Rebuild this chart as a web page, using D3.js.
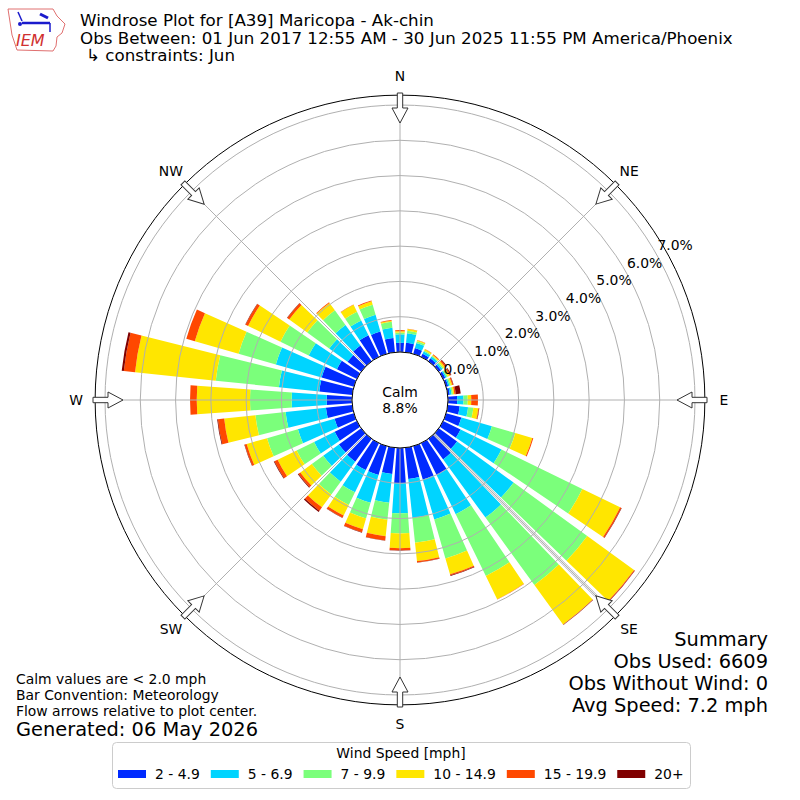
<!DOCTYPE html>
<html lang="en">
<head>
<meta charset="UTF-8">
<title>Windrose Plot</title>
<script src="https://cdn.jsdelivr.net/npm/d3@7"></script>
<style>
    body { margin: 0; background: #fff; }
    svg text { font-family: "DejaVu Sans", sans-serif; fill: #000; }
</style>
</head>
<body>
<svg id="vis" width="800" height="800"></svg>
<script>
    // wind directions (deg, where the wind blows from)
    const directions = [0, 10, 20, 30, 40, 50, 60, 70, 80, 90, 100, 110,
                        120, 130, 140, 150, 160, 170, 180, 190, 200, 210, 220, 230,
                        240, 250, 260, 270, 280, 290, 300, 310, 320, 330, 340, 350];

    const speedBins = ["2 - 4.9", "5 - 6.9", "7 - 9.9", "10 - 14.9", "15 - 19.9", "20+"];
    const binColors = ["#002aff", "#00d4ff", "#7bff7b", "#ffe600", "#ff4800", "#800000"];

    // frequency (%) per direction, one list per speed bin
    const spd2 = [0.26, 0.27, 0.17, 0.10, 0.10, 0.08, 0.07, 0.06, 0.06, 0.26, 0.34, 0.45,
                  0.55, 0.64, 0.72, 1.01, 0.98, 0.89, 1.00, 0.75, 0.85, 0.85, 0.80, 0.78,
                  0.70, 0.57, 0.75, 0.72, 0.94, 0.95, 0.63, 0.48, 0.55, 0.68, 0.66, 0.41];
    const spd5 = [0.24, 0.27, 0.15, 0.07, 0.06, 0.05, 0.04, 0.04, 0.05, 0.18, 0.24, 0.90,
                  1.29, 1.98, 2.04, 1.23, 1.18, 1.11, 0.85, 0.82, 0.82, 0.70, 0.70, 0.55,
                  0.65, 1.08, 1.15, 0.99, 1.15, 1.35, 0.89, 0.64, 0.72, 0.47, 0.49, 0.29];
    const spd7 = [0.05, 0.07, 0.05, 0.03, 0.03, 0.04, 0.04, 0.04, 0.04, 0.12, 0.15, 0.69,
                  2.55, 2.58, 2.36, 1.95, 1.15, 0.71, 0.57, 0.48, 0.46, 0.40, 0.45, 0.40,
                  0.55, 0.91, 0.86, 1.18, 1.80, 1.10, 0.89, 0.77, 0.51, 0.27, 0.30, 0.17];
    const spd10 = [0.04, 0.05, 0.03, 0.04, 0.03, 0.05, 0.05, 0.04, 0.04, 0.10, 0.14, 0.50,
                   1.19, 1.64, 1.38, 0.73, 0.47, 0.52, 0.42, 0.47, 0.32, 0.33, 0.45, 0.40,
                   0.60, 0.60, 0.89, 1.51, 2.30, 1.29, 1.02, 0.63, 0.26, 0.22, 0.10, 0.03];
    const spd15 = [0.03, 0.01, 0.01, 0.01, 0.02, 0.04, 0.04, 0.03, 0.04, 0.19, 0.02, 0.03,
                   0.04, 0.02, 0.01, 0.01, 0.03, 0.04, 0.06, 0.12, 0.09, 0.07, 0.12, 0.07,
                   0.10, 0.06, 0.18, 0.19, 0.32, 0.25, 0.08, 0.07, 0.02, 0.01, 0.02, 0.02];
    const spd20 = [0.00, 0.00, 0.00, 0.00, 0.00, 0.02, 0.02, 0.01, 0.14, 0.00, 0.01, 0.00,
                   0.01, 0.01, 0.01, 0.00, 0.02, 0.01, 0.01, 0.01, 0.01, 0.01, 0.04, 0.02,
                   0.02, 0.01, 0.02, 0.00, 0.06, 0.00, 0.01, 0.01, 0.00, 0.00, 0.00, 0.00];

    const radialTicks = [0, 1, 2, 3, 4, 5, 6, 7];
    const compassNames = ["N", "NE", "E", "SE", "S", "SW", "W", "NW"];
    const compassAngles = [0, 45, 90, 135, 180, 225, 270, 315];
    const calmPct = 8.8;

    const titleLines = ["Windrose Plot for [A39] Maricopa - Ak-chin",
                        "Obs Between: 01 Jun 2017 12:55 AM - 30 Jun 2025 11:55 PM America/Phoenix",
                        "\u21b3 constraints: Jun"];
    const noteLines = ["Calm values are < 2.0 mph", "Bar Convention: Meteorology",
                       "Flow arrows relative to plot center."];
    const summaryLines = ["Summary", "Obs Used: 6609", "Obs Without Wind: 0", "Avg Speed: 7.2 mph"];

    /* build stacked table */
    const series = [spd2, spd5, spd7, spd10, spd15, spd20];
    const rows = directions.map(function(d, i) {
        let row = {dir: d};
        speedBins.forEach(function(b, j) { row[b] = series[j][i]; });
        return row;
    });
    const stacked = d3.stack().keys(speedBins)(rows);

    let svg = d3.select("#vis");
    const cx = 400, cy = 400;
    const rMax = 7.28;
    const fs = 13.9; // 10pt
    let r = d3.scaleLinear().domain([0, 7]).range([48, 295]);
    const rad = Math.PI / 180;
    const halfWidth = 4; // bar opening 8 deg

    let plot = svg.append("g").attr("transform", "translate(" + cx + "," + cy + ")");

    /* bars */
    let arc = d3.arc();
    plot.selectAll(".layer")
        .data(stacked)
        .join("g")
        .attr("class", "layer")
        .attr("fill", (s, i) => binColors[i])
        .selectAll("path")
        .data(s => s)
        .join("path")
        .attr("d", d => arc({
            innerRadius: r(d[0]),
            outerRadius: r(d[1]),
            startAngle: (d.data.dir - halfWidth) * rad,
            endAngle: (d.data.dir + halfWidth) * rad
        }));

    /* grid */
    plot.selectAll(".ring")
        .data(radialTicks)
        .join("circle")
        .attr("class", "ring")
        .attr("r", d => r(d))
        .attr("fill", "none")
        .attr("stroke", "#b0b0b0")
        .attr("stroke-width", 1);

    plot.selectAll(".spoke")
        .data(compassAngles)
        .join("line")
        .attr("class", "spoke")
        .attr("x1", a => r(0) * Math.sin(a * rad))
        .attr("y1", a => -r(0) * Math.cos(a * rad))
        .attr("x2", a => r(rMax) * Math.sin(a * rad))
        .attr("y2", a => -r(rMax) * Math.cos(a * rad))
        .attr("stroke", "#b0b0b0")
        .attr("stroke-width", 1);

    // doubled line along the SE spoke, as in the original
    plot.append("g")
        .attr("transform", "rotate(135)")
        .selectAll("line")
        .data([-1.2, 1.2])
        .join("line")
        .attr("x1", o => o).attr("x2", o => o)
        .attr("y1", -r(0)).attr("y2", -277)
        .attr("stroke", "#a8a8a8")
        .attr("stroke-width", 0.8);

    plot.append("circle")
        .attr("r", r(rMax))
        .attr("fill", "none")
        .attr("stroke", "#000")
        .attr("stroke-width", 1);

    /* flow arrows, pointing to the center */
    const tipR = 277, headR = 292, tailR = 307;
    const arrowPath = "M0," + (-tipR) + "L8," + (-headR) + "L2.7," + (-headR) +
        "L2.7," + (-tailR) + "L-2.7," + (-tailR) + "L-2.7," + (-headR) + "L-8," + (-headR) + "Z";
    plot.selectAll(".arrow")
        .data(compassAngles)
        .join("path")
        .attr("class", "arrow")
        .attr("d", arrowPath)
        .attr("transform", a => "rotate(" + a + ")")
        .attr("fill", "#fff")
        .attr("stroke", "#333")
        .attr("stroke-width", 1);

    /* compass labels */
    plot.selectAll(".compass")
        .data(compassAngles)
        .join("text")
        .attr("class", "compass")
        .attr("x", a => 324 * Math.sin(a * rad))
        .attr("y", a => -324 * Math.cos(a * rad))
        .attr("text-anchor", "middle")
        .attr("dominant-baseline", "central")
        .attr("font-size", fs)
        .text((a, i) => compassNames[i]);

    /* radial labels at 60 deg */
    plot.selectAll(".rlabel")
        .data(radialTicks)
        .join("text")
        .attr("class", "rlabel")
        .attr("x", t => r(t) * Math.sin(60 * rad) + 2)
        .attr("y", t => -r(t) * Math.cos(60 * rad) - 2.5)
        .attr("font-size", fs)
        .text(t => t.toFixed(1) + "%");

    /* calm circle */
    plot.append("circle")
        .attr("r", r(0))
        .attr("fill", "#fff")
        .attr("stroke", "#000")
        .attr("stroke-width", 1);
    plot.append("text").attr("y", -8).attr("text-anchor", "middle")
        .attr("dominant-baseline", "central").attr("font-size", fs).text("Calm");
    plot.append("text").attr("y", 8).attr("text-anchor", "middle")
        .attr("dominant-baseline", "central").attr("font-size", fs).text(calmPct.toFixed(1) + "%");

    /* titles */
    svg.selectAll(".title")
        .data(titleLines)
        .join("text")
        .attr("class", "title")
        .attr("x", (d, i) => i === 2 ? 86 : 80)
        .attr("y", (d, i) => 26 + i * 17.5)
        .attr("font-size", 16.7)
        .text(d => d);

    /* notes */
    svg.selectAll(".note")
        .data(noteLines)
        .join("text")
        .attr("class", "note")
        .attr("x", 16)
        .attr("y", (d, i) => 684 + i * 16)
        .attr("font-size", fs)
        .text(d => d);
    svg.append("text").attr("x", 16).attr("y", 736).attr("font-size", 19.4)
        .text("Generated: 06 May 2026");

    svg.selectAll(".summary")
        .data(summaryLines)
        .join("text")
        .attr("class", "summary")
        .attr("x", 768)
        .attr("y", (d, i) => 646 + i * 22)
        .attr("text-anchor", "end")
        .attr("font-size", 19.4)
        .text(d => d);

    /* legend */
    let legend = svg.append("g");
    legend.append("rect")
        .attr("x", 112.5).attr("y", 742.5).attr("width", 578).attr("height", 46)
        .attr("rx", 4).attr("fill", "#fff").attr("stroke", "#cccccc");
    legend.append("text").attr("x", 401).attr("y", 758).attr("text-anchor", "middle")
        .attr("font-size", fs).text("Wind Speed [mph]");
    let lx = 118;
    speedBins.forEach(function(b, i) {
        legend.append("rect").attr("x", lx).attr("y", 770).attr("width", 28).attr("height", 8)
            .attr("fill", binColors[i]);
        let t = legend.append("text").attr("x", lx + 37).attr("y", 779)
            .attr("font-size", fs).text(b);
        lx += 37 + t.node().getComputedTextLength() + 11;
    });

    /* IEM logo */
    let logo = svg.append("g");
    logo.append("path")
        .attr("d", "M8,9 L53,9 L57,16 L65,24 L62,33 L57,37 L56,46 L53,51 L17,50 L15,44 L12,35 L10,22 Z")
        .attr("fill", "none").attr("stroke", "#e07070").attr("stroke-width", 1);
    logo.append("line").attr("x1", 22).attr("y1", 23).attr("x2", 50).attr("y2", 23)
        .attr("stroke", "#1a1acc").attr("stroke-width", 2.5);
    logo.append("line").attr("x1", 18).attr("y1", 12).attr("x2", 22).attr("y2", 21)
        .attr("stroke", "#1a1acc").attr("stroke-width", 1.5);
    logo.append("circle").attr("cx", 20).attr("cy", 24).attr("r", 2).attr("fill", "#1a1acc");
    logo.append("line").attr("x1", 40).attr("y1", 14).attr("x2", 48).attr("y2", 18)
        .attr("stroke", "#1a1acc").attr("stroke-width", 3);
    logo.append("line").attr("x1", 50).attr("y1", 23).attr("x2", 50).attr("y2", 32)
        .attr("stroke", "#1a1acc").attr("stroke-width", 1.5);
    logo.append("text").attr("x", 16).attr("y", 46)
        .attr("font-family", "'Liberation Serif', serif").attr("font-style", "italic")
        .attr("font-size", 16).style("fill", "#d03030").text("IEM");
</script>
</body>
</html>
